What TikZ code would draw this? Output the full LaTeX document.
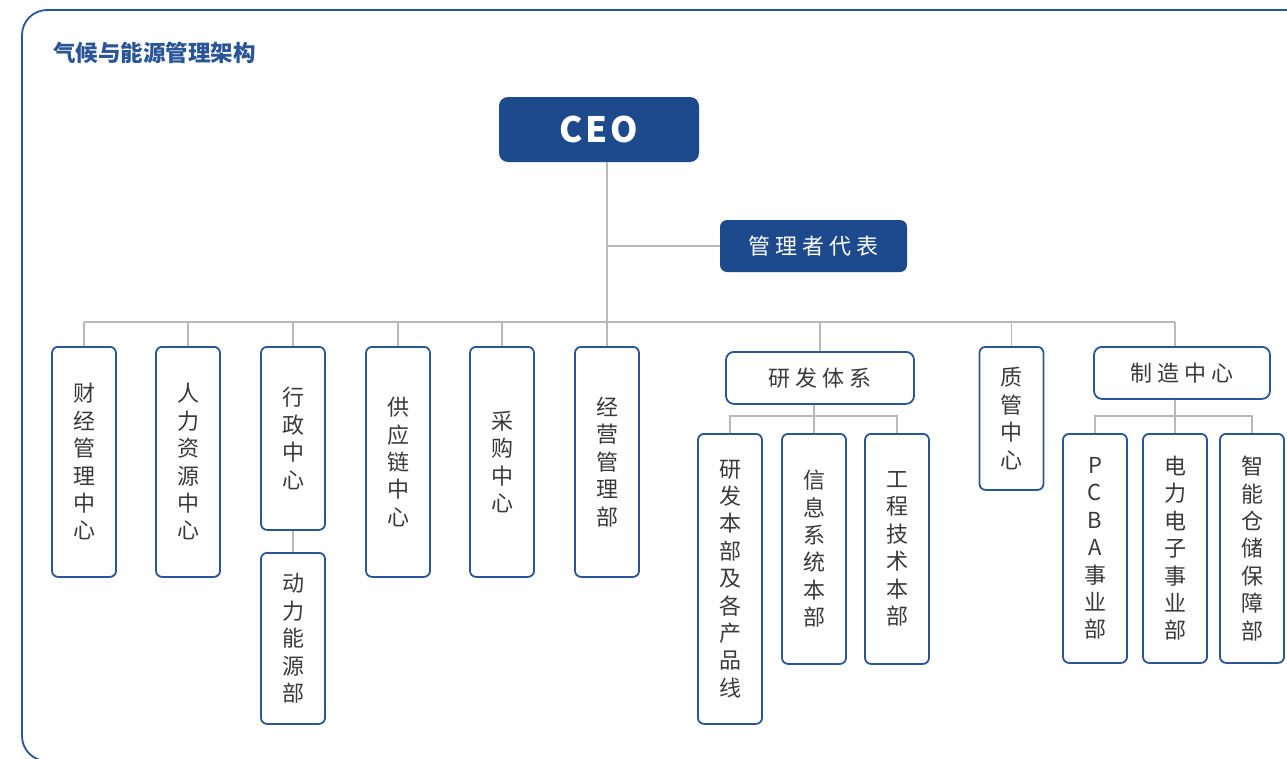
\documentclass[tikz,border=0pt]{standalone}
\usepackage{fontspec}
\setmainfont{Noto Sans}
\newfontfamily\cjk{Noto Sans CJK SC}
\definecolor{navy}{HTML}{1C4A8C}
\definecolor{edge}{HTML}{2A5597}
\definecolor{txt}{HTML}{3A3A3A}
\definecolor{conn}{HTML}{B8B8B8}
\newcommand\lsg{\hspace{5pt}}
\tikzset{
  vbox/.style={draw=edge, line width=1.8pt, rounded corners=6pt, fill=white,
    minimum width=64pt, inner sep=0pt, text=txt, align=center, anchor=north,
    font=\cjk\fontsize{22}{27.4}\selectfont},
  hbox/.style={draw=edge, line width=1.8pt, rounded corners=8pt, fill=white,
    minimum height=52pt, inner sep=0pt, text=txt, anchor=north,
    font=\cjk\fontsize{22}{26}\selectfont},
  dbox/.style={fill=navy, draw=none, rounded corners=9pt, inner sep=0pt, text=white},
  link/.style={draw=conn, line width=1.8pt}
}
\begin{document}
\begin{tikzpicture}[x=1pt,y=-1pt]
\useasboundingbox (0,0) rectangle (1287,758);
\fill[white] (0,0) rectangle (1287,758);
\draw[edge, line width=1.8pt, rounded corners=25pt] (22,10) rectangle (1320,761);
\node[anchor=west, text=edge, font=\cjk\bfseries\fontsize{22.5}{26}\selectfont, inner sep=0pt] (title) at (53,53) {气候与能源管理架构};

% top
\node[dbox, minimum width=200pt, minimum height=65pt, font=\cjk\bfseries\fontsize{35}{40}\selectfont] (ceo) at (599,129.5) {C\hspace{3pt}E\hspace{3pt}O};
\node[dbox, minimum width=187pt, minimum height=52pt, rounded corners=7pt, font=\cjk\fontsize{22}{26}\selectfont] (rep) at (813.5,246) {管\lsg 理\lsg 者\lsg 代\lsg 表};

% first level
\node[vbox, minimum height=230pt] (fin) at (84,346) {财\\经\\管\\理\\中\\心};
\node[vbox, minimum height=230pt] (hr) at (188,346) {人\\力\\资\\源\\中\\心};
\node[vbox, minimum height=183pt] (adm) at (293,346) {行\\政\\中\\心};
\node[vbox, minimum height=171pt] (pow) at (293,552) {动\\力\\能\\源\\部};
\node[vbox, minimum height=230pt] (sup) at (398,346) {供\\应\\链\\中\\心};
\node[vbox, minimum height=230pt] (pur) at (502,346) {采\\购\\中\\心};
\node[vbox, minimum height=230pt] (ops) at (607,346) {经\\营\\管\\理\\部};
\node[hbox, minimum width=188pt] (rd) at (820,351) {研\lsg 发\lsg 体\lsg 系};
\node[vbox, minimum height=143pt] (qa) at (1011.5,346) {质\\管\\中\\心};
\node[hbox, minimum width=176pt] (mfg) at (1182,346) {制\lsg 造\lsg 中\lsg 心};

% second level
\node[vbox, minimum height=290pt] (rd1) at (730,433) {研\\发\\本\\部\\及\\各\\产\\品\\线};
\node[vbox, minimum height=230pt] (rd2) at (814,433) {信\\息\\系\\统\\本\\部};
\node[vbox, minimum height=230pt] (rd3) at (897,433) {工\\程\\技\\术\\本\\部};
\node[vbox, minimum height=229pt] (m1) at (1095,433) {P\\C\\B\\A\\事\\业\\部};
\node[vbox, minimum height=229pt] (m2) at (1175,433) {电\\力\\电\\子\\事\\业\\部};
\node[vbox, minimum height=229pt] (m3) at (1252,433) {智\\能\\仓\\储\\保\\障\\部};

% connectors
\coordinate (bus) at (0,322);
\coordinate (sub) at (0,416);
\draw[link] (ceo.south -| ops.north) -- (ops.north);
\draw[link] (rep.west -| ops.north) -- (rep.west);
\draw[link] (fin.north |- bus) -- (m2.north |- bus);
\foreach \n in {fin,hr,adm,sup,pur,qa}{
  \draw[link] (\n.north |- bus) -- (\n.north);
}
\draw[link] (rd.north |- bus) -- (rd.north);
\draw[link] (m2.north |- bus) -- (m2.north |- mfg.north);
\draw[link] (adm.south) -- (pow.north);
\draw[link] (rd.south -| rd2.north) -- (rd2.north);
\draw[link] (rd1.north) -- (rd1.north |- sub) -- (rd3.north |- sub) -- (rd3.north);
\draw[link] (mfg.south -| m2.north) -- (m2.north);
\draw[link] (m1.north) -- (m1.north |- sub) -- (m3.north |- sub) -- (m3.north);
\end{tikzpicture}
\end{document}
